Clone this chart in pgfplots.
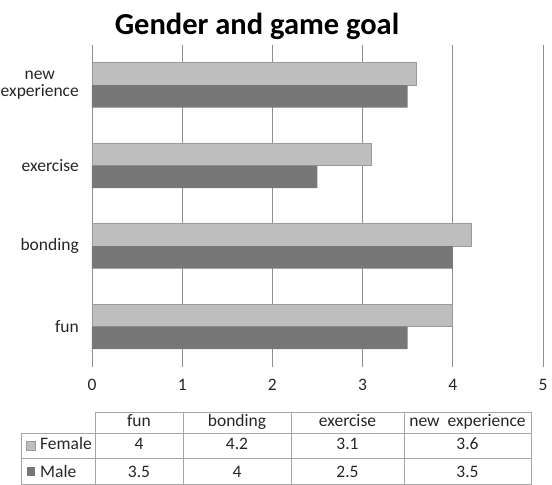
\documentclass[border=0pt]{standalone}
\usepackage{fontspec}
\setmainfont{Carlito}
\usepackage{pgfplots}
\usepackage{pgfplotstable}
\pgfplotsset{compat=1.18}

\definecolor{femalegray}{HTML}{BEBEBE}
\definecolor{femaleedge}{HTML}{9A9A9A}
\definecolor{malegray}{HTML}{777777}
\definecolor{gridgray}{HTML}{8E8E8E}
\definecolor{tablegray}{HTML}{A6A6A6}
\definecolor{labelgray}{HTML}{262626}

% mean score per goal: 0 fun, 1 bonding, 2 exercise, 3 new experience
\pgfplotstableread{
idx female male
0   4      3.5
1   4.2    4
2   3.1    2.5
3   3.6    3.5
}\goaldata

\newcommand{\cellval}[2]{\pgfplotstablegetelem{#1}{#2}\of\goaldata\pgfplotsretval}
\newcommand{\lblfont}{\fontsize{17.5}{17}\selectfont}

\begin{document}
\begin{tikzpicture}[x=1pt,y=1pt]
\useasboundingbox (0,0) rectangle (552,485);

% title
\node[font=\fontsize{30.5}{34}\selectfont\bfseries, text=black] at (257,459) {Gender and game goal};

\begin{axis}[
  at={(92pt,118pt)}, anchor=south west,
  scale only axis, width=451pt, height=322pt,
  xmin=0, xmax=5, ymin=-0.5, ymax=3.5,
  xtick={0,1,2,3,4,5},
  ytick={0,1,2,3},
  yticklabels={fun,bonding,exercise,{new\\experience}},
  yticklabel style={align=center, anchor=east, inner sep=0pt, xshift=-13pt,
    font=\lblfont, text=labelgray},
  xticklabel style={anchor=center, inner sep=0pt, yshift=-18pt,
    font=\lblfont, text=labelgray},
  /pgf/number format/assume math mode=true,
  major tick length=0pt,
  axis line style={draw=none},
  xmajorgrids, grid style={gridgray, line width=0.8pt},
  clip=false,
]
\addplot[xbar, bar width=22.5pt, bar shift=11.25pt, fill=femalegray, draw=femaleedge, line width=0.6pt]
  table[x=female, y=idx] {\goaldata};
\addplot[xbar, bar width=22.5pt, bar shift=-11.25pt, fill=malegray, draw=none]
  table[x=male, y=idx] {\goaldata};
\end{axis}

% data table under the chart
\begin{scope}[tablegray, line width=0.8pt]
  \draw (95,73) -- (531,73);
  \draw (21,52) -- (531,52);
  \draw (21,27) -- (531,27);
  \draw (21,0.5) -- (531,0.5);
  \draw (21,52) -- (21,0);
  \foreach \xx in {95,183,291,404,531} \draw (\xx,73) -- (\xx,0);
\end{scope}

\begin{scope}[every node/.style={font=\lblfont, text=labelgray, inner sep=0pt, anchor=base}]
  \node at (139,58) {fun};
  \node at (237,58) {bonding};
  \node at (347.5,58) {exercise};
  \node at (467.5,58) {new\ \ experience};

  \fill[femalegray, draw=femaleedge, line width=0.5pt] (26.5,35) rectangle (35,43.5);
  \node[anchor=base west] at (40,35) {Female};
  \fill[malegray] (26.5,9) rectangle (35,17.5);
  \node[anchor=base west] at (40,8) {Male};

  \node at (139,35) {\cellval{0}{female}};
  \node at (237,35) {\cellval{1}{female}};
  \node at (347.5,35) {\cellval{2}{female}};
  \node at (467.5,35) {\cellval{3}{female}};
  \node at (139,8) {\cellval{0}{male}};
  \node at (237,8) {\cellval{1}{male}};
  \node at (347.5,8) {\cellval{2}{male}};
  \node at (467.5,8) {\cellval{3}{male}};
\end{scope}
\end{tikzpicture}
\end{document}
